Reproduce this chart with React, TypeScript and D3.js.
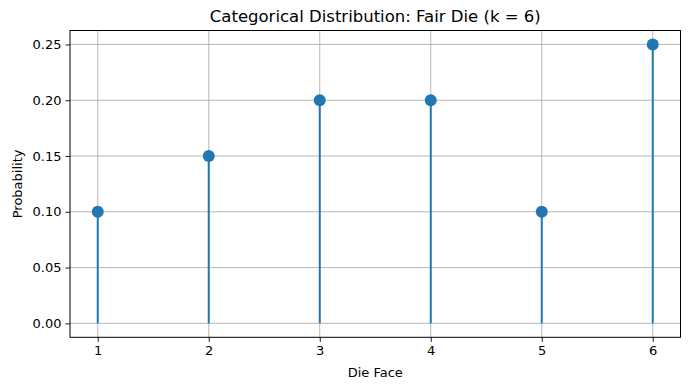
import React, { useRef, useEffect } from "react";
import * as d3 from "d3";

const faces = [1, 2, 3, 4, 5, 6];
const probs = [0.1, 0.15, 0.2, 0.2, 0.1, 0.25];
const yTicks = [0, 0.05, 0.1, 0.15, 0.2, 0.25];

const width = 690;
const height = 390;
const margin = { top: 30.5, right: 9.5, bottom: 52.7, left: 70 };
const blue = "#1f77b4";
const font = "DejaVu Sans, sans-serif";

export default function App() {
  const svgRef = useRef<SVGSVGElement>(null);

  useEffect(() => {
    const svg = d3.select(svgRef.current);
    svg.selectAll("*").remove();

    const x = d3.scaleLinear().domain([0.75, 6.25]).range([margin.left, width - margin.right]);
    const y = d3.scaleLinear().domain([-0.0125, 0.2625]).range([height - margin.bottom, margin.top]);

    // grid
    const grid = svg.append("g").attr("stroke", "#b0b0b0").attr("stroke-width", 0.9);
    faces.forEach((f) => {
      grid.append("line").attr("x1", x(f)).attr("x2", x(f)).attr("y1", margin.top).attr("y2", height - margin.bottom);
    });
    yTicks.forEach((t) => {
      grid.append("line").attr("x1", margin.left).attr("x2", width - margin.right).attr("y1", y(t)).attr("y2", y(t));
    });

    // stems
    svg
      .selectAll(".stem")
      .data(faces)
      .enter()
      .append("line")
      .attr("x1", (d) => x(d))
      .attr("x2", (d) => x(d))
      .attr("y1", y(0))
      .attr("y2", (d, i) => y(probs[i]))
      .attr("stroke", blue)
      .attr("stroke-width", 2);

    svg
      .selectAll(".dot")
      .data(faces)
      .enter()
      .append("circle")
      .attr("cx", (d) => x(d))
      .attr("cy", (d, i) => y(probs[i]))
      .attr("r", 6)
      .attr("fill", blue);

    // frame
    svg
      .append("rect")
      .attr("x", margin.left)
      .attr("y", margin.top)
      .attr("width", width - margin.left - margin.right)
      .attr("height", height - margin.top - margin.bottom)
      .attr("fill", "none")
      .attr("stroke", "black")
      .attr("stroke-width", 1);

    const xAxis = svg
      .append("g")
      .attr("transform", `translate(0,${height - margin.bottom})`)
      .call(d3.axisBottom(x).tickValues(faces).tickFormat(d3.format("d")).tickSize(4.5).tickPadding(4));
    const yAxis = svg
      .append("g")
      .attr("transform", `translate(${margin.left},0)`)
      .call(d3.axisLeft(y).tickValues(yTicks).tickFormat(d3.format(".2f")).tickSize(4.5).tickPadding(4));
    [xAxis, yAxis].forEach((a) => {
      a.select(".domain").remove();
      a.selectAll("text").attr("font-family", font).attr("font-size", 13).attr("fill", "black");
      a.selectAll("line").attr("stroke", "black").attr("stroke-width", 0.9);
    });

    svg
      .append("text")
      .attr("x", (margin.left + width - margin.right) / 2)
      .attr("y", 22)
      .attr("text-anchor", "middle")
      .attr("font-family", font)
      .attr("font-size", 16.5)
      .text("Categorical Distribution: Fair Die (k = 6)");

    svg
      .append("text")
      .attr("x", (margin.left + width - margin.right) / 2)
      .attr("y", 377)
      .attr("text-anchor", "middle")
      .attr("font-family", font)
      .attr("font-size", 13)
      .text("Die Face");

    svg
      .append("text")
      .attr("transform", "rotate(-90)")
      .attr("x", -(margin.top + height - margin.bottom) / 2)
      .attr("y", 22)
      .attr("text-anchor", "middle")
      .attr("font-family", font)
      .attr("font-size", 13)
      .text("Probability");
  }, []);

  return (
    <div style={{ margin: -8 }}>
      <svg ref={svgRef} width={width} height={height} style={{ display: "block" }} />
    </div>
  );
}
